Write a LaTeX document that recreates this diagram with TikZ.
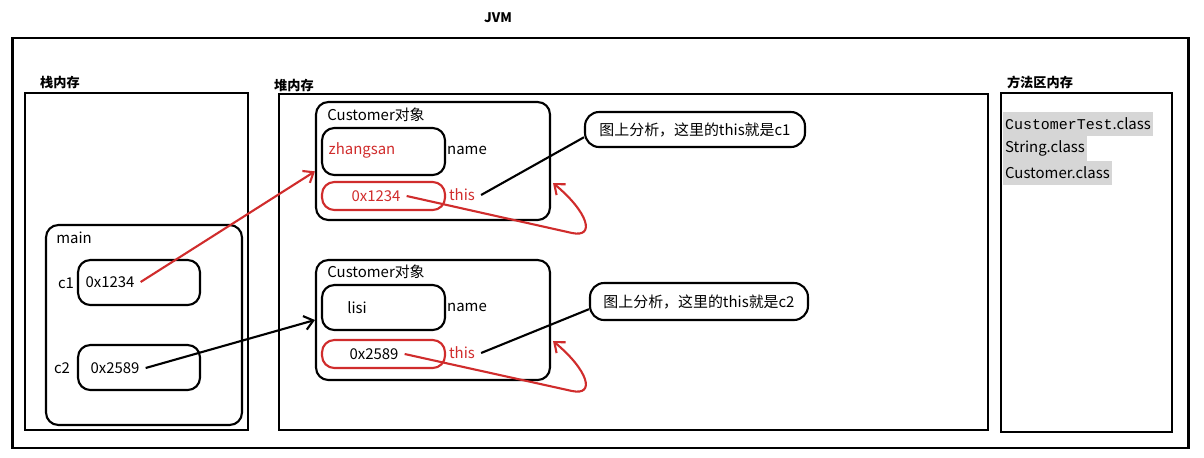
\documentclass[tikz,border=0pt]{standalone}
\usepackage{fontspec}
\setmainfont{Noto Sans CJK SC}
\newfontfamily\codefont{Liberation Mono}
\usetikzlibrary{arrows.meta}
\definecolor{jvmred}{RGB}{208,44,44}
\begin{document}
\begin{tikzpicture}[x=0.02cm, y=-0.02cm, font=\fontsize{8.5}{10}\selectfont,
  area/.style={draw, line width=1.6pt, inner sep=0pt},
  areatitle/.style={font=\fontsize{7.5}{9}\selectfont\bfseries},
  blob/.style={draw, line width=1.2pt, rounded corners=7pt, inner sep=0pt},
  redblob/.style={blob, draw=jvmred},
  redtext/.style={text=jvmred},
  link/.style={line width=1.2pt, -{Straight Barb[length=5pt, width=8pt]}},
  cls/.style={anchor=west, fill=black!16, inner xsep=1pt, inner ysep=3.4pt}]
\useasboundingbox (0,0) rectangle (1204,457);

\node[area, minimum width=23.54cm, minimum height=8.2cm] (jvm) at (600.5,243) {};
\node[areatitle] (jvmlabel) at (498,18) {JVM};

% stack
\node[area, minimum width=4.46cm, minimum height=6.74cm] (stack) at (136.5,261.5) {};
\node[areatitle] (stacklabel) at (60,82) {栈内存};
\node[blob, minimum width=3.92cm, minimum height=4cm] (main) at (144,325) {};
\node (mainlabel) at (74,238) {main};
\node[blob, minimum width=2.44cm, minimum height=0.9cm] (c1box) at (139,282.5) {};
\node (c1label) at (66,283) {c1};
\node (c1val) at (110,282) {0x1234};
\node[blob, minimum width=2.44cm, minimum height=0.9cm] (c2box) at (139,367.5) {};
\node (c2label) at (62,368) {c2};
\node (c2val) at (115,368) {0x2589};

% heap
\node[area, minimum width=14.18cm, minimum height=6.72cm] (heap) at (633.5,262) {};
\node[areatitle] (heaplabel) at (294,85) {堆内存};

\node[blob, minimum width=4.68cm, minimum height=2.36cm] (obj1) at (433,161) {};
\node (obj1label) at (376,115) {Customer对象};
\node[blob, minimum width=2.46cm, minimum height=0.94cm] (name1) at (383.5,151.5) {};
\node[redtext] (name1val) at (362,150) {zhangsan};
\node (name1label) at (467,150) {name};
\node[redblob, minimum width=2.46cm, minimum height=0.56cm] (this1) at (383.5,196) {};
\node[redtext] (addr1) at (376,196) {0x1234};
\node[redtext] (this1label) at (462,195) {this};

\node[blob, minimum width=4.68cm, minimum height=2.4cm] (obj2) at (433,320) {};
\node (obj2label) at (376,272) {Customer对象};
\node[blob, minimum width=2.46cm, minimum height=0.9cm] (name2) at (383.5,307.5) {};
\node (name2val) at (357,308) {lisi};
\node (name2label) at (467,307) {name};
\node[redblob, minimum width=2.46cm, minimum height=0.56cm] (this2) at (383.5,354) {};
\node (addr2) at (374,354) {0x2589};
\node[redtext] (this2label) at (462,353) {this};

\node[blob, rounded corners=8pt, minimum width=4.4cm, minimum height=0.7cm] (note1) at (695,129.5) {图上分析，这里的this就是c1};
\node[blob, rounded corners=8pt, minimum width=4.36cm, minimum height=0.74cm] (note2) at (699,301.5) {图上分析，这里的this就是c2};

% method area
\node[area, minimum width=3.42cm, minimum height=6.78cm] (method) at (1086.5,262.5) {};
\node[areatitle] (methodlabel) at (1040,82) {方法区内存};
\node[cls] (cls1) at (1003,124) {{\codefont CustomerTest}.class};
\node[cls] (cls2) at (1003,148) {String.class};
\node[cls] (cls3) at (1003,173) {Customer.class};

% references
\draw[link, jvmred] (c1val.east) -- (obj1.185);
\draw[link] (c2val.east) -- (obj2.west);
\draw[link, jvmred] (addr1.east) -- (572,233) .. controls (596,238) and (588,212) .. (553,183);
\draw[link, jvmred] (addr2.east) -- (572,391) .. controls (596,396) and (588,370) .. (553,341);
\draw[line width=1.2pt] (this1label.east) -- (note1.184);
\draw[line width=1.2pt] (this2label.east) -- (note2.184);
\end{tikzpicture}
\end{document}
